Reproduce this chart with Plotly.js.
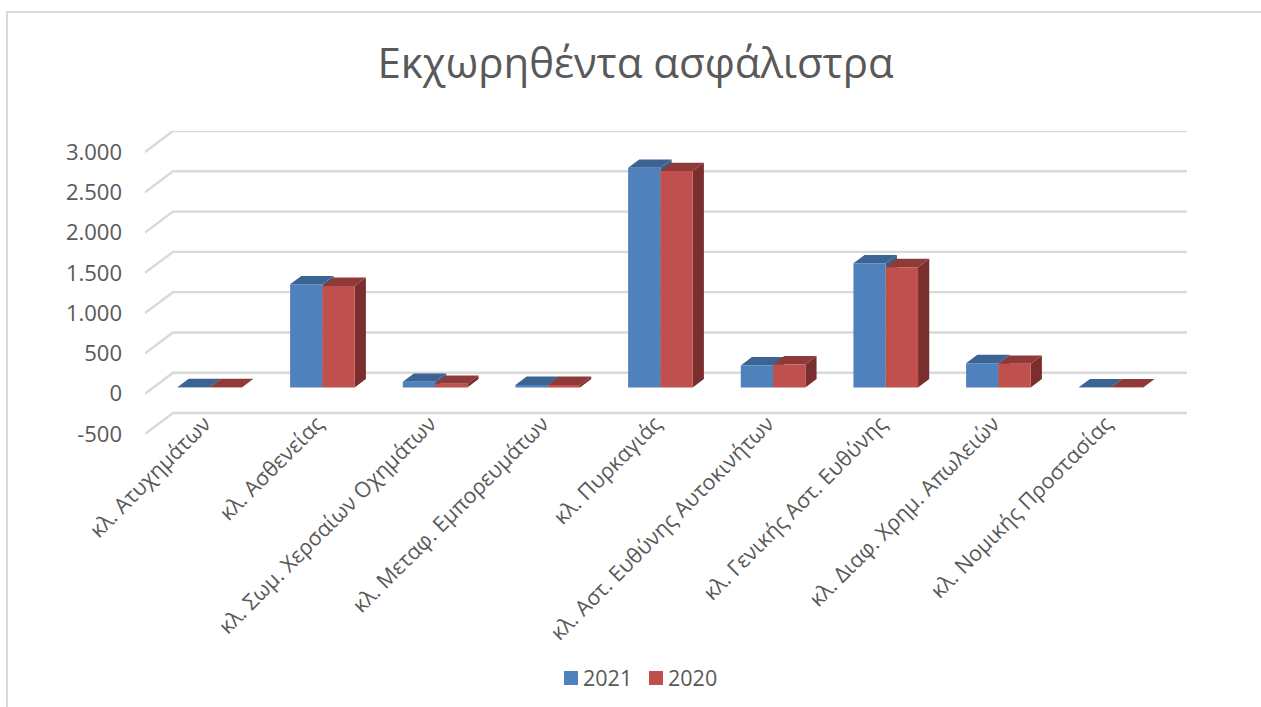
<!DOCTYPE html>
<html>
<head>
<meta charset="utf-8">
<title>Εκχωρηθέντα ασφάλιστρα</title>
<script src="https://cdn.plot.ly/plotly-3.0.1.min.js"></script>
<style>html,body{margin:0;padding:0;background:#fff;overflow:hidden}#chart{width:1261px;height:707px}</style>
</head>
<body>
<div id="chart"></div>
<script>
const categories = ['κλ. Ατυχημάτων','κλ. Ασθενείας','κλ. Σωμ. Χερσαίων Οχημάτων','κλ. Μεταφ. Εμπορευμάτων','κλ. Πυρκαγιάς','κλ. Αστ. Ευθύνης Αυτοκινήτων','κλ. Γενικής Αστ. Ευθύνης','κλ. Διαφ. Χρημ. Απωλειών','κλ. Νομικής Προστασίας'];
const values2021 = [3, 1280, 70, 30, 2725, 273, 1540, 300, 2];
const values2020 = [3, 1260, 45, 30, 2685, 285, 1492, 293, 2];
const gridValues = [-500, 0, 500, 1000, 1500, 2000, 2500, 3000];
const gridLabels = ['-500', '0', '500', '1.000', '1.500', '2.000', '2.500', '3.000'];

const W = 1261, H = 707;
const M = {l: 145, r: 74, t: 131, b: 273};

// Oblique projection: one unit of depth moves a point right (categories) and up (value).
const DEPTH_X = 0.2485, DEPTH_Y = 260;
const BAR_FRONT = 0.30, BAR_BACK = 0.70;   // depth span of each bar inside the floor
const BAR_W = 0.2867;
const LABEL_SHIFT = -0.045;                // rotated labels end just left of the bar centre
const project = (x, v, d) => [x + d * DEPTH_X, v + d * DEPTH_Y];
const polygon = pts => 'M' + pts.map(p => p.join(',')).join('L') + 'Z';

const FONT = '"Open Sans", "Noto Sans", sans-serif';
const INK = '#595959', GRID = '#d9d9d9';
const COLOR_2021 = '#4f81bd', COLOR_2020 = '#c0504d';

// Receding floor/wall rules for each value tick.
const shapes = [];
gridValues.forEach(v => {
  const a = project(-0.5, v, 0), b = project(-0.5, v, 1), c = project(8.5, v, 1);
  shapes.push({type: 'path', layer: 'below', xref: 'x', yref: 'y',
    path: 'M' + a.join(',') + 'L' + b.join(',') + 'L' + c.join(','),
    line: {color: GRID, width: 2.4}});
});

// Side and top faces sit under the front faces, left bar before right bar.
function addFaces(values, leftEdge, sideColor, topColor) {
  values.forEach((v, i) => {
    const x0 = i + leftEdge, x1 = x0 + BAR_W;
    shapes.push({type: 'path', layer: 'below', xref: 'x', yref: 'y', line: {width: 0}, fillcolor: sideColor,
      path: polygon([project(x1, 0, BAR_FRONT), project(x1, 0, BAR_BACK), project(x1, v, BAR_BACK), project(x1, v, BAR_FRONT)])});
    shapes.push({type: 'path', layer: 'below', xref: 'x', yref: 'y', line: {width: 0}, fillcolor: topColor,
      path: polygon([project(x0, v, BAR_FRONT), project(x0, v, BAR_BACK), project(x1, v, BAR_BACK), project(x1, v, BAR_FRONT)])});
  });
}
addFaces(values2021, -BAR_W, '#385d8a', '#3b6393');
addFaces(values2020, 0, '#7a2f2e', '#8f3a38');

// Chart-area outline along the top and left of the page.
const px = x => (x - M.l) / (W - M.l - M.r);
const py = y => (H - M.b - y) / (H - M.t - M.b);
shapes.push({type: 'path', layer: 'below', xref: 'paper', yref: 'paper',
  path: `M${px(7)},${py(H)}L${px(7)},${py(12)}L${px(W)},${py(12)}`,
  line: {color: GRID, width: 2}});

// Legend row: swatch plus series name.
const annotations = [];
function legendEntry(name, color, left) {
  shapes.push({type: 'rect', layer: 'above', xref: 'paper', yref: 'paper', line: {width: 0}, fillcolor: color,
    x0: px(left), x1: px(left + 14), y0: py(685), y1: py(671)});
  annotations.push({text: name, xref: 'paper', yref: 'paper', x: px(left + 18), y: py(677), xanchor: 'left', yanchor: 'middle',
    showarrow: false, borderpad: 0, font: {family: FONT, size: 21.5, color: INK}});
}
legendEntry('2021', COLOR_2021, 564);
legendEntry('2020', COLOR_2020, 649);

const centers = categories.map((_, i) => project(i, 0, BAR_FRONT)[0]);
const base = project(0, 0, BAR_FRONT)[1];
const barTrace = (name, values, color, offset) => ({
  type: 'bar', name, x: centers, y: values, base, width: BAR_W, offset,
  marker: {color, line: {width: 0}}, hoverinfo: 'x+y'
});

const data = [
  barTrace('2021', values2021, COLOR_2021, -BAR_W),
  barTrace('2020', values2020, COLOR_2020, 0)
];

const layout = {
  width: W, height: H, margin: M,
  paper_bgcolor: '#fff', plot_bgcolor: 'rgba(0,0,0,0)',
  font: {family: FONT, color: INK, size: 20},
  barmode: 'overlay',
  showlegend: false,
  title: {text: 'Εκχωρηθέντα ασφάλιστρα', x: 0.504, xanchor: 'center', y: 0.91, yanchor: 'middle',
          font: {family: FONT, size: 42, color: INK}},
  xaxis: {type: 'linear', range: [-0.5, 8.5 + DEPTH_X], showgrid: false, zeroline: false, showline: false,
          tickmode: 'array', tickvals: centers.map(c => c + LABEL_SHIFT), ticktext: categories, tickangle: -45, ticks: '',
          ticklabelstandoff: -28, tickfont: {family: FONT, size: 21.5, color: INK}},
  yaxis: {type: 'linear', range: [-500, 3000 + DEPTH_Y], showgrid: false, zeroline: false, showline: false,
          tickmode: 'array', tickvals: gridValues, ticktext: gridLabels, ticks: '', ticklabelstandoff: 22,
          tickfont: {family: FONT, size: 22, color: INK}},
  shapes, annotations
};

Plotly.newPlot('chart', data, layout, {displayModeBar: false, staticPlot: true});
</script>
</body>
</html>
